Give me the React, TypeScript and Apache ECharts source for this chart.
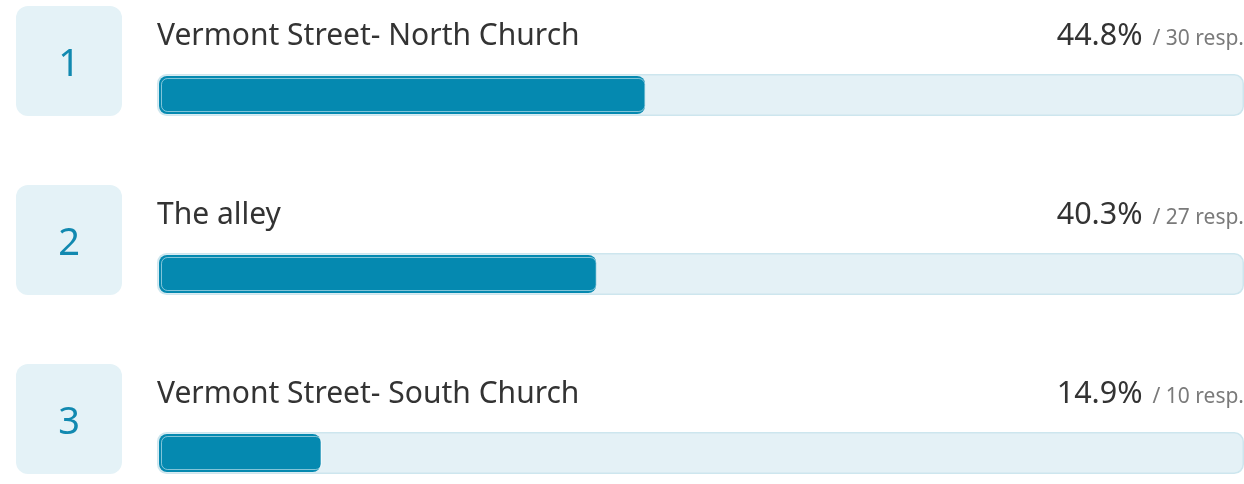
import React, { useEffect, useRef } from "react";
import * as echarts from "echarts";

const categories = ["Vermont Street- North Church", "The alley", "Vermont Street- South Church"];
const percents = [44.8, 40.3, 14.9];
const responses = [30, 27, 10];
const trackMax = [100, 100, 100];

const FONT = "Noto Sans";

export default function App() {
  const ref = useRef<HTMLDivElement>(null);
  useEffect(() => {
    const chart = echarts.init(ref.current!, undefined, { renderer: "svg" });
    const gridTop = 5.5;
    const gridHeight = 537;
    const yBase = {
      type: "category" as const,
      data: categories,
      inverse: true,
      axisLine: { show: false },
      axisTick: { show: false },
      splitLine: { show: false },
    };
    const gridBase = { top: gridTop, height: gridHeight, containLabel: false, outerBoundsMode: "none" };
    chart.setOption({
      animation: false,
      textStyle: { fontFamily: FONT },
      grid: [
        { ...gridBase, left: 157, right: 0 },
        { ...gridBase, left: 159, right: 0 },
        { ...gridBase, left: 161, right: 2 },
      ],
      xAxis: [0, 1, 2].map((i) => ({
        type: "value",
        gridIndex: i,
        min: 0,
        max: 100,
        show: false,
      })),
      yAxis: [
        {
          ...yBase,
          gridIndex: 0,
          axisLabel: {
            show: true,
            margin: 35,
            padding: [0, 0, 68, 0],
            formatter: (_v: string, idx: number) => `{b|${idx + 1}}`,
            rich: {
              b: {
                width: 106,
                height: 110,
                lineHeight: 110,
                align: "center",
                verticalAlign: "middle",
                backgroundColor: "#e4f2f7",
                borderRadius: 12,
                fontSize: 38,
                color: "#1189b0",
                fontFamily: FONT,
              },
            },
          },
        },
        { ...yBase, gridIndex: 1, axisLabel: { show: false } },
        { ...yBase, gridIndex: 2, axisLabel: { show: false } },
      ],
      series: [
        {
          type: "bar",
          xAxisIndex: 0,
          yAxisIndex: 0,
          data: trackMax,
          barWidth: 42,
          itemStyle: {
            color: "#e4f1f6",
            borderColor: "#cde6ee",
            borderWidth: 1.5,
            borderRadius: 9,
          },
          label: {
            show: true,
            position: [1087, -41],
            align: "right",
            verticalAlign: "middle",
            formatter: (p: any) =>
              `{p|${percents[p.dataIndex].toFixed(1)}%}{r|/ ${responses[p.dataIndex]} resp.}`,
            rich: {
              p: { fontSize: 30.5, color: "#333333", fontFamily: FONT, padding: [0, 10, 0, 0] },
              r: { fontSize: 21, color: "#7a7a7a", fontFamily: FONT, padding: [8, 0, 0, 0] },
            },
          },
        },
        {
          type: "bar",
          xAxisIndex: 1,
          yAxisIndex: 1,
          data: percents,
          barWidth: 38,
          itemStyle: { color: "#0589b0", borderRadius: 8 },
          label: {
            show: true,
            position: [-2, -43],
            align: "left",
            verticalAlign: "middle",
            formatter: (p: any) => categories[p.dataIndex],
            fontSize: 30,
            color: "#333333",
            fontFamily: FONT,
          },
        },
        {
          type: "bar",
          xAxisIndex: 2,
          yAxisIndex: 2,
          data: percents,
          barWidth: 34,
          itemStyle: {
            color: "transparent",
            borderColor: "rgba(255,255,255,0.5)",
            borderWidth: 1,
            borderRadius: 6,
          },
        },
      ],
    });
    return () => chart.dispose();
  }, []);
  return (
    <div
      ref={ref}
      style={{ position: "fixed", left: 0, top: 0, width: 1244, height: 484 }}
    />
  );
}
